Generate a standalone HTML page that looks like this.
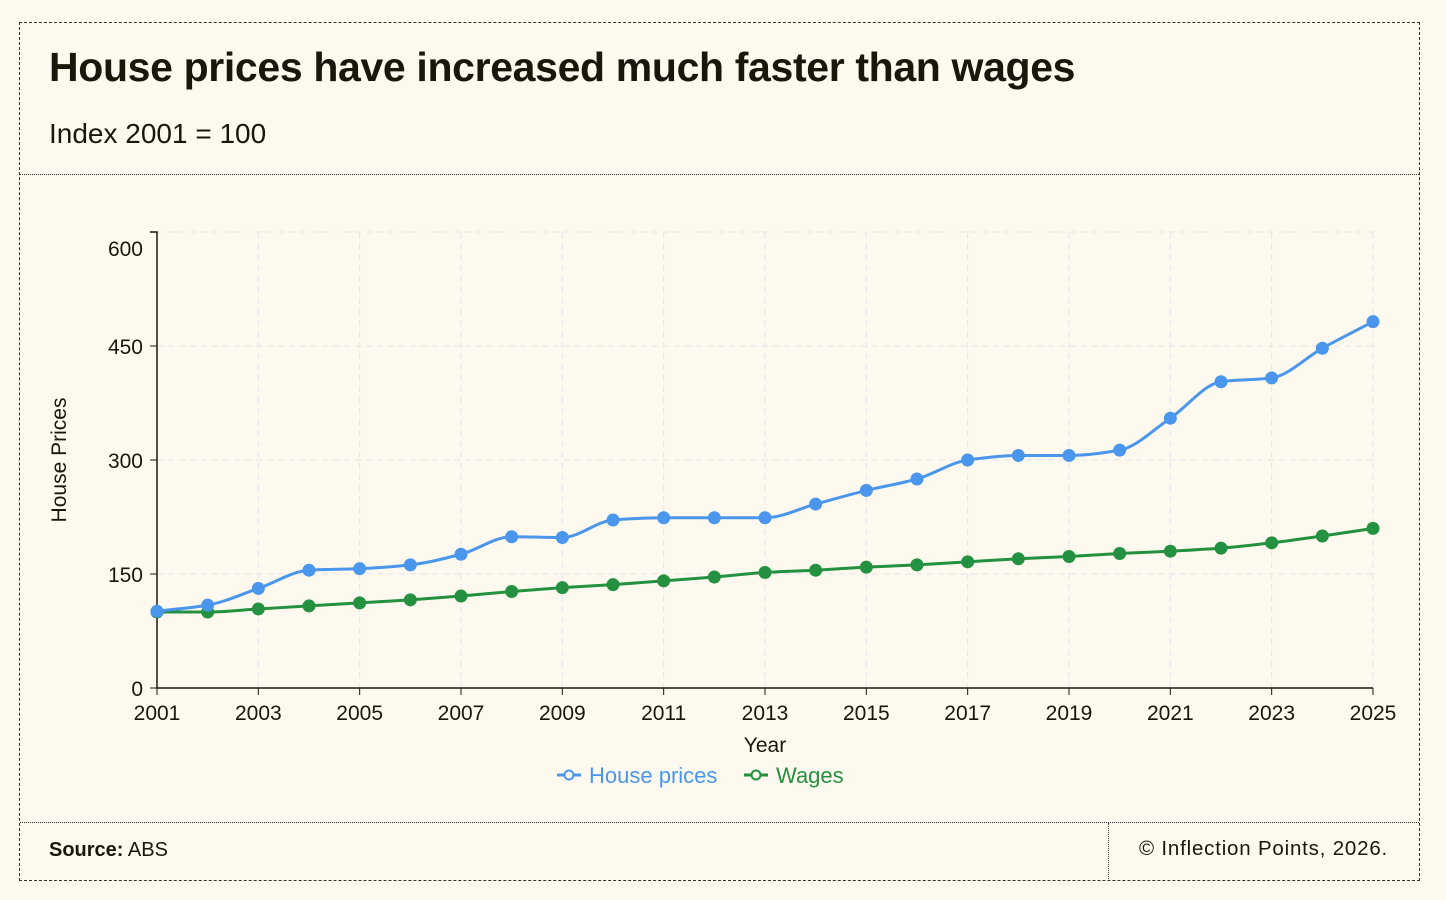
<!DOCTYPE html>
<html><head><meta charset="utf-8"><style>
body{margin:0;background:#fef9ee;width:1446px;height:900px;overflow:hidden;font-family:"Liberation Sans",sans-serif;color:#1a1708}
#frame{position:absolute;left:19px;top:22px;width:1401px;height:859px;border:1px dashed #333;box-sizing:border-box}
#head{position:absolute;left:0;top:0;width:100%;height:151px;border-bottom:1px dotted #333}
h1{position:absolute;left:29px;top:21px;margin:0;font-size:41px;font-weight:bold;letter-spacing:-0.35px}
#sub{position:absolute;left:29px;top:95px;font-size:28px}
#foot{position:absolute;left:0;top:799px;width:100%;height:58px;border-top:1px dotted #333;font-size:20px}
#src{position:absolute;left:29px;top:16px}
#copy{position:absolute;left:1088px;top:0;height:58px;border-left:1px dotted #333;padding-left:30px;line-height:52px;font-size:20.5px;letter-spacing:0.8px}
svg{position:absolute;left:0;top:0}
</style></head><body>
<div id="frame">
<div id="head">
<h1>House prices have increased much faster than wages</h1>
<div id="sub">Index 2001 = 100</div>
</div>
<div id="foot">
<div id="src"><b>Source:</b> ABS</div>
<div id="copy">© Inflection Points, 2026.</div>
</div>
</div>
<svg id="chart" width="1446" height="900"></svg>
<script>
const years=[2001,2002,2003,2004,2005,2006,2007,2008,2009,2010,2011,2012,2013,2014,2015,2016,2017,2018,2019,2020,2021,2022,2023,2024,2025];
const housePrices=[101,109,131,155,157,162,176,199,198,221,224,224,224,242,260,275,300,306,306,313,355,403,408,447,482];
const wages=[100,100,104,108,112,116,121,127,132,136,141,146,152,155,159,162,166,170,173,177,180,184,191,200,210];
const yTicks=[0,150,300,450,600];
const xTicks=[2001,2003,2005,2007,2009,2011,2013,2015,2017,2019,2021,2023,2025];
const NS='http://www.w3.org/2000/svg',svg=document.getElementById('chart');
const X=v=>157+(v-2001)*(1216/24), Y=v=>688-v*0.76;
function mk(t,a,p){const e=document.createElementNS(NS,t);for(const k in a)e.setAttribute(k,a[k]);(p||svg).appendChild(e);return e;}
yTicks.forEach(t=>{if(t>0){const g=mk('line',{x1:157,x2:1373,y1:Y(t),y2:Y(t),stroke:'#e4e4ec','stroke-dasharray':'6,5'});

}
mk('line',{x1:150,x2:157,y1:Y(t),y2:Y(t),stroke:'#1a1708'});
const l=mk('text',{x:143,y:(t==600?Y(t)+24:Y(t)+8),'text-anchor':'end','font-size':21,fill:'#1a1708'});l.textContent=t;

});
xTicks.forEach(t=>{if(t>2001){const g=mk('line',{x1:X(t),x2:X(t),y1:232,y2:688,stroke:'#e4e4ec','stroke-dasharray':'6,5'});

}
mk('line',{x1:X(t),x2:X(t),y1:688,y2:695,stroke:'#1a1708'});
const l=mk('text',{x:X(t),y:720,'text-anchor':'middle','font-size':21,fill:'#1a1708'});l.textContent=t;

});
const ax=mk('path',{d:'M150,232H157V688H1373',fill:'none',stroke:'#1a1708','stroke-width':1.5});


const xt=mk('text',{x:765,y:752,'text-anchor':'middle','font-size':21,fill:'#1a1708'});xt.textContent='Year';


const yt=mk('text',{x:0,y:0,transform:'translate(66,460) rotate(-90)','text-anchor':'middle','font-size':21,fill:'#1a1708'});yt.textContent='House Prices';


function monotone(xs,ys){const n=xs.length,d=[],m=[];for(let i=0;i<n-1;i++)d.push((ys[i+1]-ys[i])/(xs[i+1]-xs[i]));
for(let i=0;i<n;i++){if(i==0)m.push(d[0]);else if(i==n-1)m.push(d[n-2]);else m.push(d[i-1]*d[i]<=0?0:(2*d[i-1]*d[i]/(d[i-1]+d[i])));}
let p='M'+xs[0]+','+ys[0];for(let i=0;i<n-1;i++){const h=(xs[i+1]-xs[i])/3;p+=`C${xs[i]+h},${ys[i]+m[i]*h} ${xs[i+1]-h},${ys[i+1]-m[i+1]*h} ${xs[i+1]},${ys[i+1]}`;}return p;}
function series(vals,color,name){const xs=years.map(X),ys=vals.map(Y);
const p=mk('path',{d:monotone(xs,ys),fill:'none',stroke:color,'stroke-width':3});


vals.forEach((v,i)=>{const c=mk('circle',{cx:X(years[i]),cy:Y(v),r:6.5,fill:color});

});}
series(wages,'#23913f','wages');
series(housePrices,'#4a96ec','house-prices');
function legend(x,color,label,name){const g=mk('g',{});


mk('line',{x1:x,x2:x+24,y1:775,y2:775,stroke:color,'stroke-width':3},g);
mk('circle',{cx:x+12,cy:775,r:4.5,fill:'#fef9ee',stroke:color,'stroke-width':2},g);
const t=mk('text',{x:x+32,y:783,'font-size':22,fill:color},g);t.textContent=label;}
legend(557,'#4a96ec','House prices','legend-house-prices');
legend(744,'#23913f','Wages','legend-wages');
</script>
</body></html>
